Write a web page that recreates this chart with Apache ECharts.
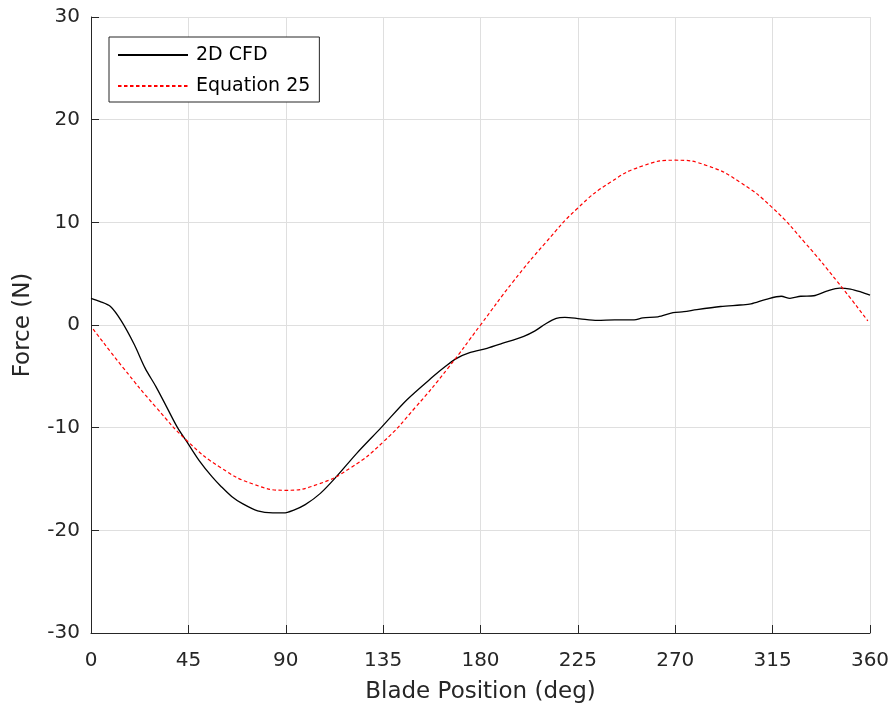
<!DOCTYPE html>
<html>
<head>
<meta charset="utf-8">
<script src="https://cdn.jsdelivr.net/npm/echarts@6/dist/echarts.min.js"></script>
<style>html,body{margin:0;padding:0;background:#fff;}#c{width:895px;height:709px;}</style>
</head>
<body>
<div id="c"></div>
<script>
const xTicks = [0, 45, 90, 135, 180, 225, 270, 315, 360];
const yTicks = [-30, -20, -10, 0, 10, 20, 30];
const cfdX = [0,4,9,14,20,25,30,35,40,45,50,56,60,65,70,77,84,89,94,99,106,113.5,122.8,134.3,145.9,158.2,164,169,175,183,190,200,205,210,215,219,226,234,242,251,255,262,269,274,280,291,300,305,312,319,323,328,334,340,346,351,356,360];
const cfdY = [2.6,2.3,1.8,0.4,-1.9,-4.2,-6.0,-8.0,-10.0,-11.6,-13.2,-14.8,-15.7,-16.7,-17.4,-18.1,-18.3,-18.3,-18.0,-17.5,-16.4,-14.75,-12.5,-9.95,-7.3,-5.0,-4.0,-3.25,-2.7,-2.27,-1.8,-1.1,-0.6,0.1,0.65,0.75,0.6,0.45,0.5,0.5,0.7,0.8,1.2,1.3,1.5,1.8,1.95,2.05,2.5,2.8,2.6,2.8,2.85,3.3,3.6,3.5,3.2,2.9];
const eqX = [1,15,30,45,60,75,90,105,120,135,150,165,180,195,210,225,240,255,270,285,300,315,330,345,359];
const eqY = [-0.4,-4.2,-8.0,-11.4,-13.9,-15.5,-16.1,-15.5,-13.9,-11.4,-8.0,-4.2,0,4.2,8.0,11.4,13.9,15.5,16.05,15.5,13.9,11.4,8.0,4.2,0.4];
const seriesNames = ['2D CFD', 'Equation 25'];

const pair = (xs, ys) => xs.map((x, i) => [x, ys[i]]);
const txt = '#262626';
const font = 'DejaVu Sans, sans-serif';

const chart = echarts.init(document.getElementById('c'), null, {renderer: 'canvas'});
chart.setOption({
  animation: false,
  backgroundColor: '#fff',
  grid: {left: 91, right: 25, top: 17, bottom: 75, containLabel: false},
  xAxis: {
    type: 'value', min: 0, max: 360, interval: 45,
    name: 'Blade Position (deg)', nameLocation: 'middle', nameGap: 48,
    nameTextStyle: {color: txt, fontSize: 23, fontFamily: font},
    axisLine: {show: true, onZero: false, lineStyle: {color: txt, width: 1}},
    axisTick: {show: true, inside: true, length: 8, lineStyle: {color: txt}},
    axisLabel: {color: txt, fontSize: 20, fontFamily: font, margin: 18,
      formatter: v => xTicks.includes(v) ? String(v) : ''},
    splitLine: {show: true, lineStyle: {color: '#dfdfdf', width: 1}}
  },
  yAxis: {
    type: 'value', min: -30, max: 30, interval: 10,
    name: 'Force (N)', nameLocation: 'middle', nameGap: 56, nameRotate: 90,
    nameTextStyle: {color: txt, fontSize: 23, fontFamily: font},
    axisLine: {show: true, onZero: false, lineStyle: {color: txt, width: 1}},
    axisTick: {show: true, inside: true, length: 8, lineStyle: {color: txt}},
    axisLabel: {color: txt, fontSize: 20, fontFamily: font, margin: 11,
      formatter: v => yTicks.includes(v) ? String(v) : ''},
    splitLine: {show: true, lineStyle: {color: '#dfdfdf', width: 1}}
  },
  legend: {
    left: 109, top: 37, orient: 'vertical',
    itemWidth: 70, itemHeight: 20, itemGap: 11,
    padding: [8, 9, 6, 8],
    borderColor: txt, borderWidth: 1, backgroundColor: '#fff', borderRadius: 0,
    itemStyle: {opacity: 0},
    textStyle: {color: '#000', fontSize: 19, fontFamily: font, lineHeight: 20, padding: [0, 0, 0, 3]},
    data: seriesNames
  },
  series: [
    {name: seriesNames[0], type: 'line', data: pair(cfdX, cfdY), showSymbol: false, symbol: 'none',
     smooth: 0.3, lineStyle: {color: '#000', width: 1.3}, itemStyle: {color: '#000'}},
    {name: seriesNames[1], type: 'line', data: pair(eqX, eqY), showSymbol: false, symbol: 'none',
     smooth: true, lineStyle: {color: '#ff0000', width: 1.2, type: [3.5, 2.5]}, itemStyle: {color: '#ff0000'}}
  ]
});
</script>
</body>
</html>
